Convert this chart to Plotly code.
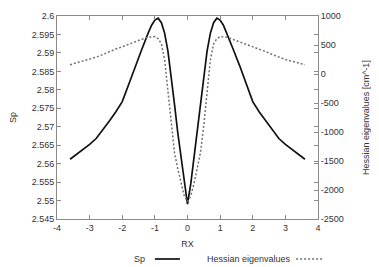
import plotly.graph_objects as go

rx = [-3.6, -3.4, -3.2, -3.0, -2.8, -2.6, -2.4, -2.2, -2.0, -1.8, -1.6, -1.4, -1.2, -1.1, -1.0, -0.9, -0.8, -0.7, -0.6, -0.5,
      -0.4, -0.3, -0.2, -0.1, 0.0, 0.1, 0.2, 0.3, 0.4, 0.5, 0.6, 0.7, 0.8, 0.9, 1.0, 1.1, 1.2, 1.4, 1.6, 1.8,
      2.0, 2.2, 2.4, 2.6, 2.8, 3.0, 3.2, 3.4, 3.6]
sp = [2.5612, 2.5625, 2.5638, 2.5652, 2.5668, 2.5690, 2.5715, 2.5740, 2.5768, 2.5815, 2.5865, 2.5910, 2.5955, 2.5975, 2.5989, 2.5994, 2.5982, 2.5953, 2.5905, 2.5840,
      2.5762, 2.5685, 2.5620, 2.5545, 2.5490, 2.5545, 2.5620, 2.5685, 2.5762, 2.5840, 2.5905, 2.5953, 2.5982, 2.5994, 2.5989, 2.5975, 2.5955, 2.5910, 2.5865, 2.5815,
      2.5768, 2.5740, 2.5715, 2.5690, 2.5668, 2.5652, 2.5638, 2.5625, 2.5612]
hess = [160, 190, 220, 250, 290, 335, 385, 430, 470, 515, 560, 600, 635, 645, 645, 610, 520, 240, -320, -880,
        -1350, -1630, -1890, -2100, -2200, -2100, -1890, -1630, -1350, -880, -320, 240, 520, 610, 645, 645, 635, 595, 555, 510,
        465, 430, 385, 335, 290, 250, 220, 190, 160]

x_ticks = [-4, -3, -2, -1, 0, 1, 2, 3, 4]
x_labels = ["-4", "-3", "-2", "-1", "0", "1", "2", "3", "4"]
y_ticks = [2.545, 2.55, 2.555, 2.56, 2.565, 2.57, 2.575, 2.58, 2.585, 2.59, 2.595, 2.6]
y_labels = ["2.545", "2.55", "2.555", "2.56", "2.565", "2.57", "2.575", "2.58", "2.585", "2.59", "2.595", "2.6"]
y2_ticks = [-2500, -2000, -1500, -1000, -500, 0, 500, 1000]
y2_labels = ["-2500", "-2000", "-1500", "-1000", "-500", "0", "500", "1000"]

FONT = "Liberation Sans, Arial, sans-serif"
TXT = "#333333"
AX = "#8a8a8a"
FS = 9

fig = go.Figure()
fig.add_trace(go.Scatter(x=rx, y=sp, mode="lines", name="Sp",
                         line=dict(color="#111111", width=1.7), showlegend=False))
fig.add_trace(go.Scatter(x=rx, y=hess, mode="lines", name="Hessian eigenvalues", yaxis="y2",
                         line=dict(color="#707070", width=1.5, dash="2px,2px"), showlegend=False))

# page body has an 8px default margin, so the figure is sized to fit and offsets compensated
fig.update_layout(
    width=371, height=259,
    margin=dict(l=49, r=61, t=8, b=48, autoexpand=False),
    paper_bgcolor="white", plot_bgcolor="white",
    font=dict(family=FONT, size=FS, color=TXT),
    xaxis=dict(range=[-4, 4], tickvals=x_ticks, ticktext=x_labels, ticks="inside", ticklen=4, tickcolor=AX,
               showline=True, linecolor=AX, linewidth=1, mirror="ticks", showgrid=False, zeroline=False,
               automargin=False,
               title=dict(text="RX", standoff=8, font=dict(size=FS, color=TXT))),
    yaxis=dict(range=[2.545, 2.6], tickvals=y_ticks, ticktext=y_labels, ticks="inside", ticklen=4, tickcolor=AX,
               showline=True, linecolor=AX, linewidth=1, mirror="ticks", showgrid=False, zeroline=False,
               automargin=False,
               title=dict(text="Sp", standoff=21, font=dict(size=FS, color=TXT))),
    yaxis2=dict(range=[-2500, 1000], tickvals=y2_ticks, ticktext=y2_labels, overlaying="y", side="right",
                ticks="inside", ticklen=4, automargin=False,
                tickcolor=AX, showline=True, linecolor=AX, showgrid=False, zeroline=False,
                title=dict(text="Hessian eigenvalues [cm^-1]", standoff=19, font=dict(size=FS, color=TXT))),
)

# gnuplot-style legend below the plot: label then line sample
ly = -0.197
fig.add_annotation(x=0.345, y=ly, xref="paper", yref="paper", text="Sp", showarrow=False,
                   xanchor="right", yanchor="middle", font=dict(size=FS, color=TXT))
fig.add_shape(type="line", xref="paper", yref="paper", x0=0.375, x1=0.471, y0=ly, y1=ly,
              line=dict(color="#111111", width=1.7))
fig.add_annotation(x=0.904, y=ly, xref="paper", yref="paper", text="Hessian eigenvalues", showarrow=False,
                   xanchor="right", yanchor="middle", font=dict(size=FS, color=TXT))
fig.add_shape(type="line", xref="paper", yref="paper", x0=0.916, x1=1.019, y0=ly, y1=ly,
              line=dict(color="#707070", width=1.5, dash="2px,2px"))

fig.write_html("out.html")
